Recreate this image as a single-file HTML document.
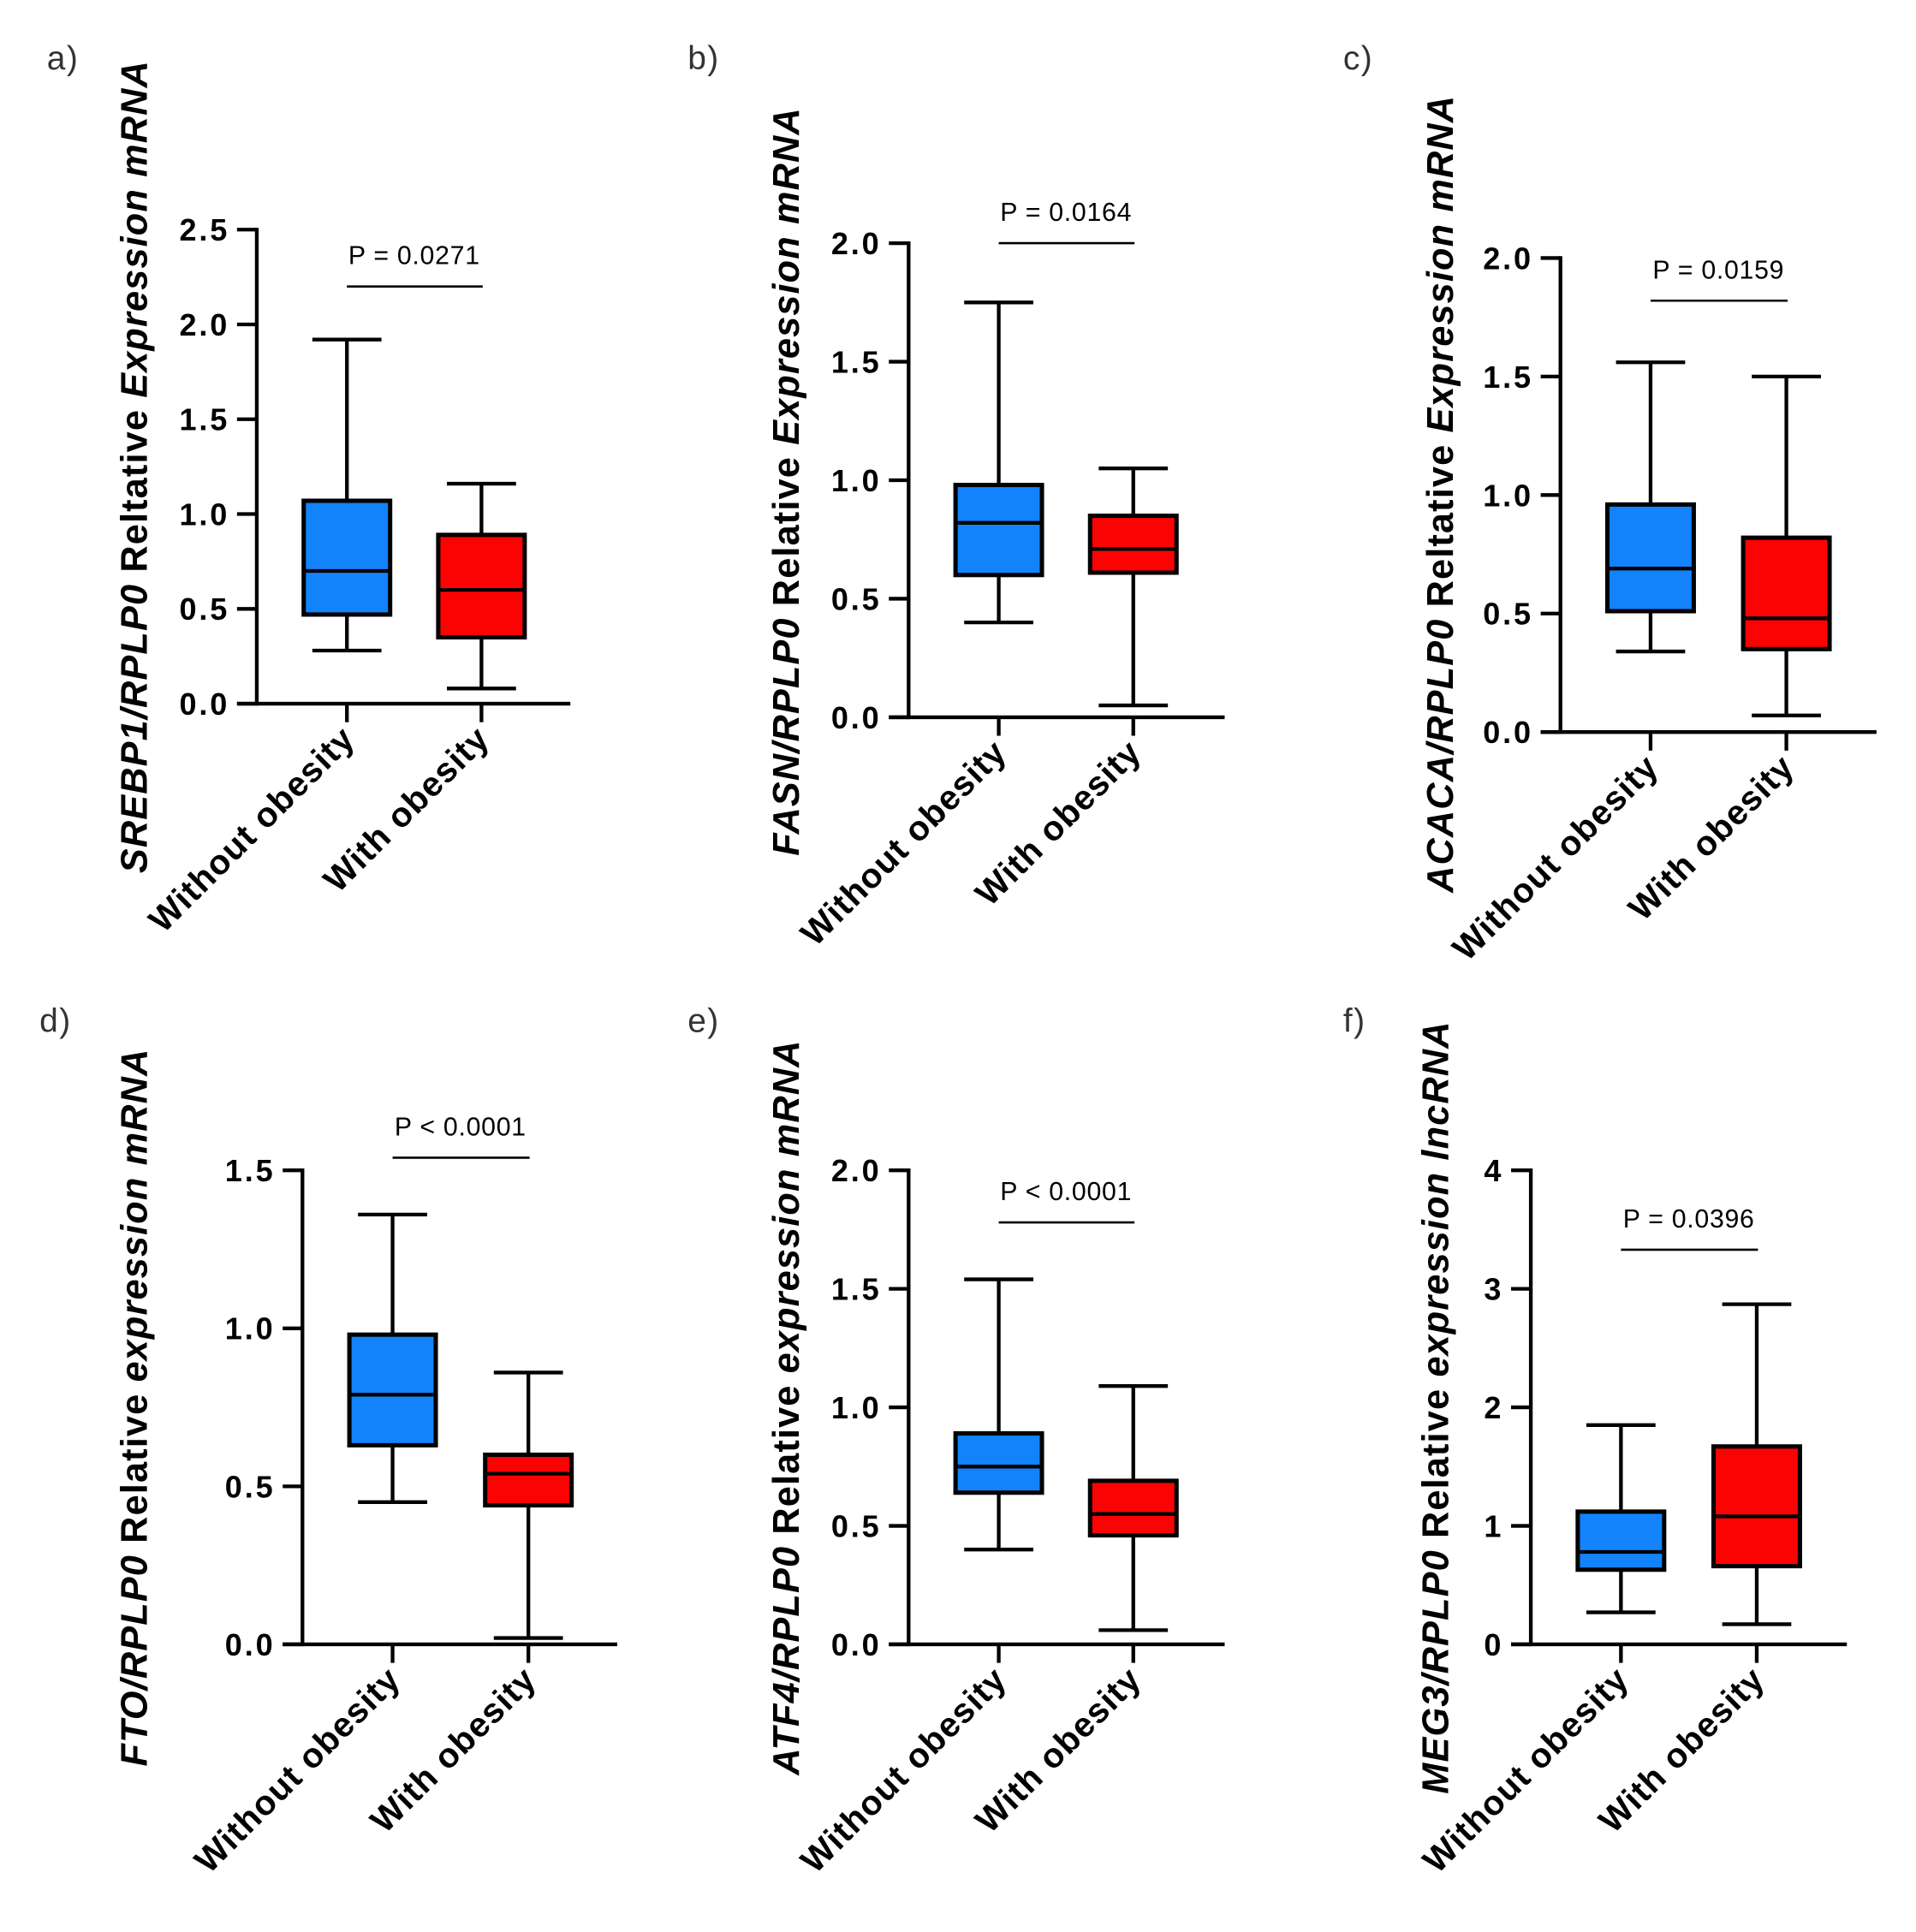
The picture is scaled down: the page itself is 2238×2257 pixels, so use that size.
<!DOCTYPE html>
<html><head><meta charset="utf-8"><style>
html,body{margin:0;padding:0;background:#fff;}
svg{display:block;}
text{font-family:"Liberation Sans",Arial,sans-serif;}
</style></head><body>
<svg id="fig" width="2238" height="2257" viewBox="0 0 1552 1565" preserveAspectRatio="none" xmlns="http://www.w3.org/2000/svg"></svg>
<script>
const categories = ["Without obesity","With obesity"];
const panelLetters = ["a)","b)","c)","d)","e)","f)"];
const pTexts = ["P = 0.0271","P = 0.0164","P = 0.0159","P < 0.0001","P < 0.0001","P = 0.0396"];
const bracketValues = [2.2, 2.0, 1.82, 1.54, 1.78, 3.33];
const yMaxes = [2.5, 2.0, 2.0, 1.5, 2.0, 4];
const yTickLists = [
  ["0.0","0.5","1.0","1.5","2.0","2.5"],
  ["0.0","0.5","1.0","1.5","2.0"],
  ["0.0","0.5","1.0","1.5","2.0"],
  ["0.0","0.5","1.0","1.5"],
  ["0.0","0.5","1.0","1.5","2.0"],
  ["0","1","2","3","4"]
];
// [min, q1, median, q3, max]
const withoutStats = [
  [0.28,0.47,0.70,1.07,1.92],
  [0.40,0.60,0.82,0.98,1.75],
  [0.34,0.51,0.69,0.96,1.56],
  [0.45,0.63,0.79,0.98,1.36],
  [0.40,0.64,0.75,0.89,1.54],
  [0.27,0.63,0.78,1.12,1.85]
];
const withStats = [
  [0.08,0.35,0.60,0.89,1.16],
  [0.05,0.61,0.71,0.85,1.05],
  [0.07,0.35,0.48,0.82,1.50],
  [0.02,0.44,0.54,0.60,0.86],
  [0.06,0.46,0.55,0.69,1.09],
  [0.17,0.66,1.08,1.67,2.87]
];
const titleGenes = ["SREBP1/RPLP0","FASN/RPLP0","ACACA/RPLP0","FTO/RPLP0","ATF4/RPLP0","MEG3/RPLP0"];
const titleTails = [
  ["Reltative"," Expression mRNA"],
  ["Relative"," Expression mRNA"],
  ["Reltative"," Expression mRNA"],
  ["Relative"," expression mRNA"],
  ["Relative"," expression mRNA"],
  ["Relative"," expression lncRNA"]
];

// layout (not data)
const layout = [
  {ax:208,y0:570,yTop:186,xEnd:462,c:[281,390],lx:38,ly:56,tx:119,ty:378},
  {ax:736,y0:581,yTop:197,xEnd:992,c:[809,918],lx:557,ly:56,tx:647,ty:390},
  {ax:1264,y0:593,yTop:209,xEnd:1520,c:[1337,1447],lx:1088,ly:56,tx:1177,ty:400},
  {ax:245,y0:1332,yTop:948,xEnd:500,c:[318,428],lx:32,ly:836,tx:119,ty:1140},
  {ax:736,y0:1332,yTop:948,xEnd:992,c:[809,918],lx:557,ly:836,tx:647,ty:1140},
  {ax:1240,y0:1332,yTop:948,xEnd:1496,c:[1313,1423],lx:1088,ly:836,tx:1173,ty:1140}
];
const colors = ["#1283fb","#fb0303"];
const NS="http://www.w3.org/2000/svg";
const svg=document.getElementById('fig');
function mk(tag,attrs,parent){const e=document.createElementNS(NS,tag);for(const k in attrs)e.setAttribute(k,attrs[k]);(parent||svg).appendChild(e);return e;}

layout.forEach((L,i)=>{
  const g=mk('g',{});
  
  
  const y=v=>L.y0-(v/yMaxes[i])*(L.y0-L.yTop);
  const lab=mk('text',{x:L.lx,y:L.ly,'font-size':27,fill:'#333','letter-spacing':1},g);lab.textContent=panelLetters[i];
  
  
  const ya=mk('line',{x1:L.ax,y1:L.yTop-1.5,x2:L.ax,y2:L.y0+1.5,stroke:'#000','stroke-width':3},g);
  
  
  const xa=mk('line',{x1:L.ax-16,y1:L.y0,x2:L.xEnd,y2:L.y0,stroke:'#000','stroke-width':3},g);
  
  
  yTickLists[i].forEach(t=>{
    const yy=y(parseFloat(t));
    mk('line',{x1:L.ax-16,y1:yy,x2:L.ax,y2:yy,stroke:'#000','stroke-width':3},g);
    const tx=mk('text',{x:L.ax-22,y:yy+9,'font-size':25,'font-weight':'bold','text-anchor':'end','letter-spacing':2},g);
    tx.textContent=t;
    
    
  });
  const tt=mk('text',{x:0,y:0,'font-size':30,'font-weight':'bold','text-anchor':'middle','letter-spacing':0.8,transform:`translate(${L.tx},${L.ty}) rotate(-90)`},g);
  
  
  const s1=mk('tspan',{'font-style':'italic'},tt);s1.textContent=titleGenes[i]+' ';
  const s2=mk('tspan',{},tt);s2.textContent=titleTails[i][0];
  const s3=mk('tspan',{'font-style':'italic'},tt);s3.textContent=titleTails[i][1];
  [withoutStats[i],withStats[i]].forEach((s,j)=>{
    const cx=L.c[j],hw=35,cw=28;
    const bg=mk('g',{},g);
    
    
    mk('line',{x1:cx,y1:y(s[0]),x2:cx,y2:y(s[4]),stroke:'#000','stroke-width':3},bg);
    mk('line',{x1:cx-cw,y1:y(s[0]),x2:cx+cw,y2:y(s[0]),stroke:'#000','stroke-width':3},bg);
    mk('line',{x1:cx-cw,y1:y(s[4]),x2:cx+cw,y2:y(s[4]),stroke:'#000','stroke-width':3},bg);
    mk('rect',{x:cx-hw,y:y(s[3]),width:hw*2,height:y(s[1])-y(s[3]),fill:colors[j],stroke:'#000','stroke-width':3.5},bg);
    mk('line',{x1:cx-hw,y1:y(s[2]),x2:cx+hw,y2:y(s[2]),stroke:'#000','stroke-width':3},bg);
    mk('line',{x1:cx,y1:L.y0,x2:cx,y2:L.y0+15,stroke:'#000','stroke-width':3},g);
    const cl=mk('text',{x:0,y:0,'font-size':28,'font-weight':'bold','text-anchor':'end','letter-spacing':0.8,transform:`translate(${cx+8},${L.y0+30}) rotate(-45)`},g);
    cl.textContent=categories[j];
    
    
  });
  const by=y(bracketValues[i]);
  const br=mk('line',{x1:L.c[0],y1:by,x2:L.c[1]+1,y2:by,stroke:'#000','stroke-width':1.8},g);
  
  
  const pt=mk('text',{x:(L.c[0]+L.c[1])/2,y:by-18,'font-size':21,'text-anchor':'middle','letter-spacing':0.5},g);
  pt.textContent=pTexts[i];
  
  
});
</script>
</body></html>
